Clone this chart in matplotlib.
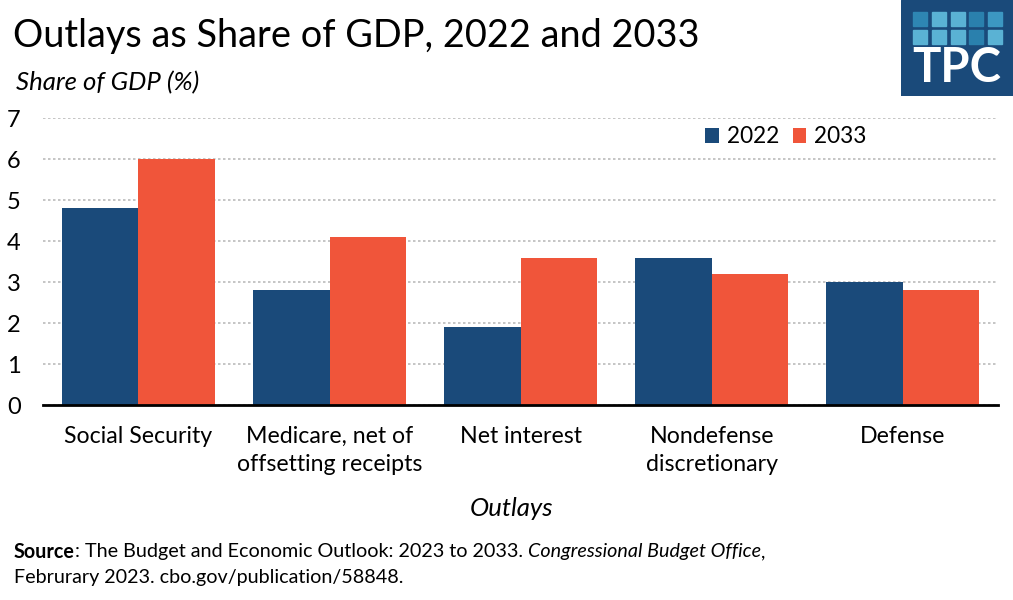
import matplotlib
matplotlib.use("Agg")
import matplotlib.pyplot as plt
import numpy as np
from matplotlib.patches import Rectangle

categories = ["Social Security", "Medicare, net of\noffsetting receipts", "Net interest",
              "Nondefense\ndiscretionary", "Defense"]
values_2022 = [4.8, 2.8, 1.9, 3.6, 3.0]
values_2033 = [6.0, 4.1, 3.6, 3.2, 2.8]
series_names = ["2022", "2033"]
yticks = [0, 1, 2, 3, 4, 5, 6, 7]

BLUE = "#1a4a7a"
RED = "#f0553a"

plt.rcParams['font.family'] = ['Lato', 'DejaVu Sans']

fig = plt.figure(figsize=(10.13, 6.0), dpi=100)
ax = fig.add_axes([0.0424, 0.325, 0.943, 0.478])

x = np.arange(len(categories))
w = 0.4
ax.bar(x - w/2, values_2022, w, color=BLUE, label=series_names[0], zorder=3)
ax.bar(x + w/2, values_2033, w, color=RED, label=series_names[1], zorder=3)

ax.set_xlim(-0.5, len(categories) - 0.5)
ax.set_ylim(0, 7)
ax.set_yticks(yticks)
ax.set_yticklabels([str(t) for t in yticks], fontsize=17)
ax.set_xticks(x)
ax.set_xticklabels(categories, fontsize=16.7, linespacing=1.45)
ax.tick_params(axis='both', length=0)
ax.tick_params(axis='x', pad=15)
ax.tick_params(axis='y', pad=16)

ax.grid(axis='y', color='#bbbbbb', linestyle=(0, (1.5, 1.5)), linewidth=1.2, zorder=0)
for s in ['top', 'right', 'left']:
    ax.spines[s].set_visible(False)
ax.spines['bottom'].set_linewidth(2)
ax.spines['bottom'].set_color('black')
ax.spines['bottom'].set_zorder(4)

leg = ax.legend(loc='center right', bbox_to_anchor=(0.874, 0.935), ncol=2, frameon=False,
                fontsize=16.3, handlelength=0.6, handleheight=0.6, handletextpad=0.35,
                columnspacing=0.6, borderpad=0)

fig.text(0.013, 0.94, "Outlays as Share of GDP, 2022 and 2033", fontsize=27.3, va='center', ha='left')
fig.text(0.016, 0.862, "Share of GDP (%)", fontsize=18.5, style='italic', va='center', ha='left')
fig.text(0.505, 0.152, "Outlays", fontsize=18.5, style='italic', va='center', ha='center')

renderer = fig.canvas.get_renderer()
def put(xpx, ypx, s, **kw):
    t = fig.text(xpx / 1013, 1 - ypx / 600, s, fontsize=14.2, va='center', ha='left', **kw)
    bb = t.get_window_extent(renderer=renderer)
    return xpx + bb.width
xp = put(14, 552, "Source", weight='bold')
xp = put(xp, 552, ": The Budget and Economic Outlook: 2023 to 2033. ")
xp = put(xp, 552, "Congressional Budget Office", style='italic')
xp = put(xp, 552, ",")
put(14, 578, "Februrary 2023. cbo.gov/publication/58848.")

# TPC logo
lax = fig.add_axes([901/1013, 1 - 96/600, 112/1013, 96/600])
lax.set_xlim(0, 112)
lax.set_ylim(96, 0)
lax.axis('off')
lax.add_patch(Rectangle((0, 0), 112, 96, color=BLUE))
sq_cols = [["#2e86b3", "#5ab2d4", "#5ab2d4", "#2a80ad", "#3c97c2"],
           ["#5ab2d4", "#5ab2d4", "#5ab2d4", "#2a80ad", "#5ab2d4"]]
for r in range(2):
    for c in range(5):
        lax.add_patch(Rectangle((12 + c * 18.75, 12 + r * 17.5), 14, 14, color=sq_cols[r][c]))
lax.text(56, 68, "TPC", color='white', fontsize=34, weight='bold', ha='center', va='center')

fig.savefig("out.png", dpi=100)
